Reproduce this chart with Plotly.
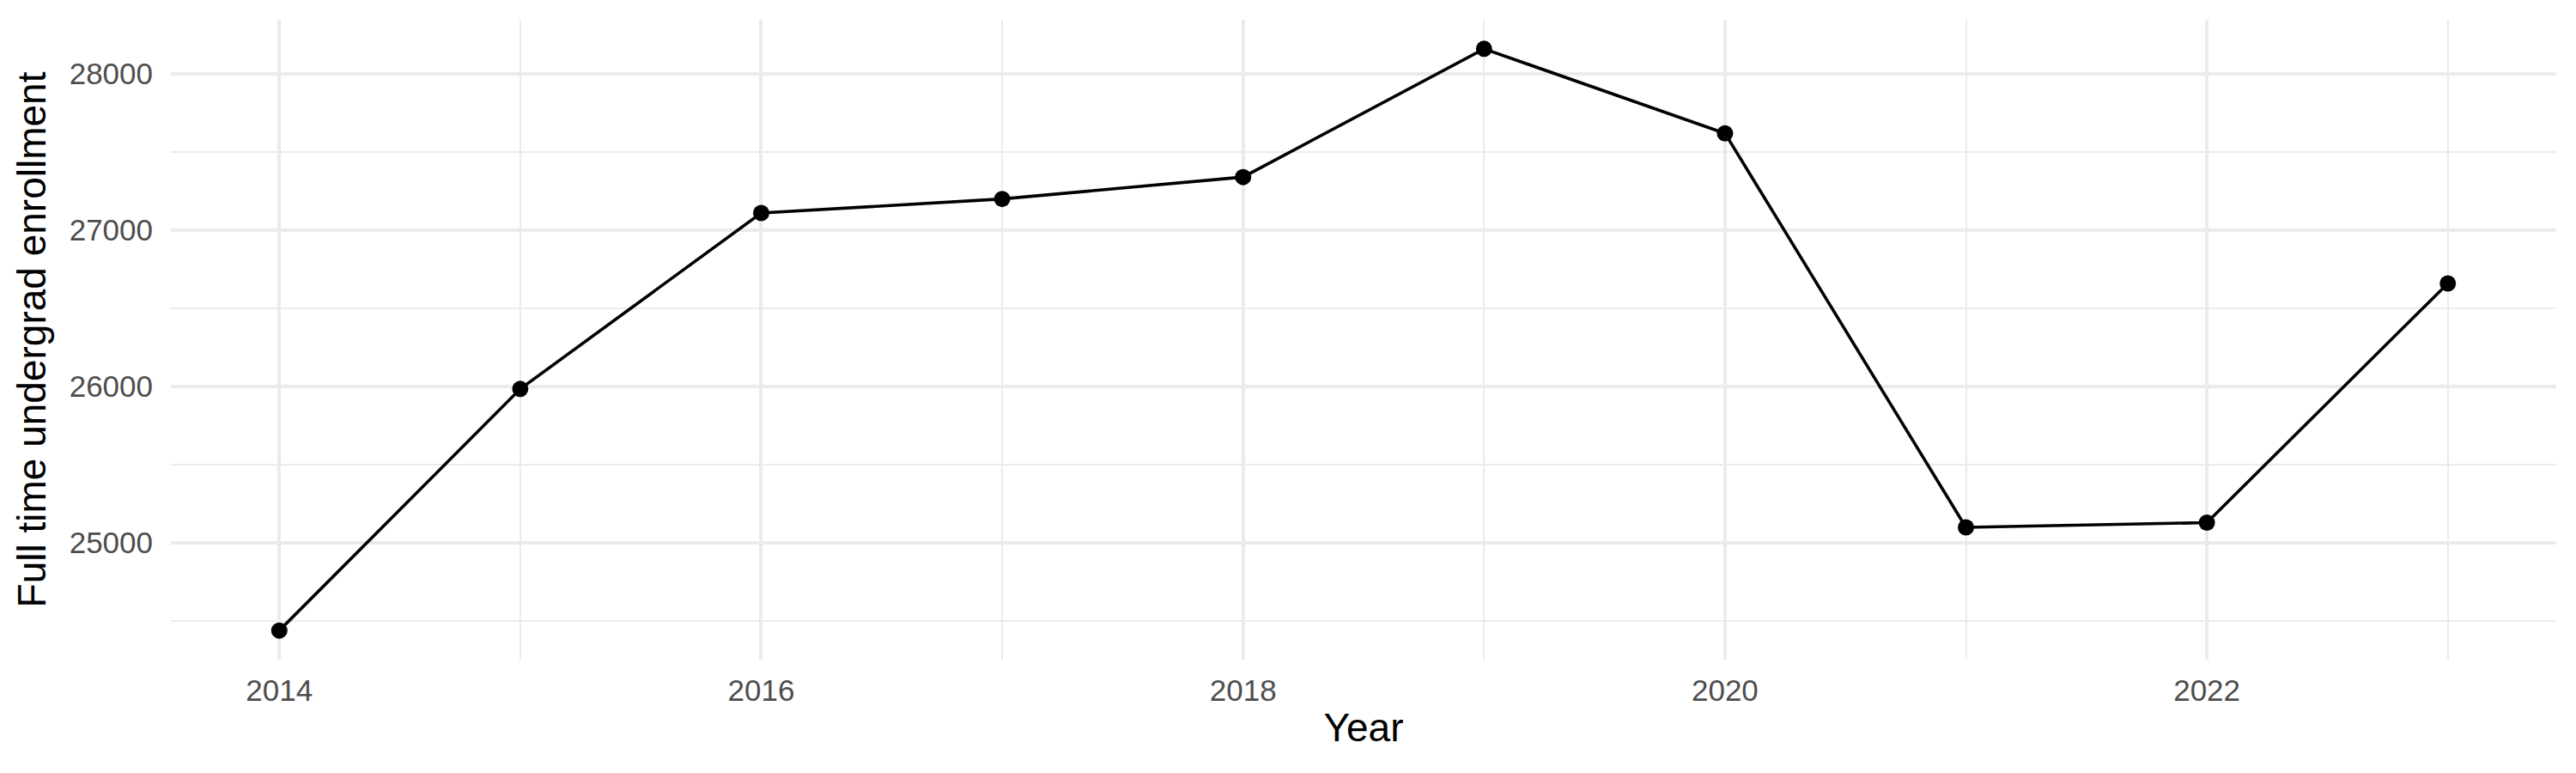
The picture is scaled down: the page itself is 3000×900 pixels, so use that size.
import plotly.graph_objects as go

# enrollment by year
years = [2014, 2015, 2016, 2017, 2018, 2019, 2020, 2021, 2022, 2023]
enrollment = [24440, 25985, 27110, 27200, 27340, 28160, 27620, 25100, 25130, 26660]

x_ticks = [2014, 2016, 2018, 2020, 2022]
y_ticks = [25000, 26000, 27000, 28000]

grid = "#EBEBEB"
font = "Liberation Sans, Arial, sans-serif"

fig = go.Figure()
fig.add_trace(go.Scatter(
    x=years, y=enrollment, mode="lines+markers",
    line=dict(color="black", width=3.6),
    marker=dict(color="black", size=19),
    showlegend=False,
))

# ggplot style 5% padding on both axes
xpad = (max(years) - min(years)) * 0.05
ypad = (max(enrollment) - min(enrollment)) * 0.05

# page body adds 8px, so margins are shifted to compensate
fig.update_layout(
    width=3000, height=900,
    plot_bgcolor="white", paper_bgcolor="white",
    margin=dict(l=191, r=31, t=15, b=140),
    font=dict(family=font),
)
fig.update_xaxes(
    range=[min(years) - xpad, max(years) + xpad],
    tickvals=x_ticks, ticktext=[str(v) for v in x_ticks],
    showgrid=True, gridcolor=grid, gridwidth=4,
    minor=dict(dtick=1, tick0=2014, showgrid=True, gridcolor=grid, gridwidth=2),
    zeroline=False, showline=False, ticks="",
    tickfont=dict(size=35, color="#4D4D4D", family=font),
    ticklabelstandoff=12,
    title=dict(text="Year", font=dict(size=46, color="black", family=font), standoff=8),
    automargin=False,
)
fig.update_yaxes(
    range=[min(enrollment) - ypad, max(enrollment) + ypad],
    tickvals=y_ticks, ticktext=[str(v) for v in y_ticks],
    showgrid=True, gridcolor=grid, gridwidth=4,
    minor=dict(dtick=500, tick0=24500, showgrid=True, gridcolor=grid, gridwidth=2),
    zeroline=False, showline=False, ticks="",
    tickfont=dict(size=35, color="#4D4D4D", family=font),
    ticklabelstandoff=20,
    title=dict(text="Full time undergrad enrollment", font=dict(size=46, color="black", family=font), standoff=12),
    automargin=False,
)

fig.write_html("out.html")
